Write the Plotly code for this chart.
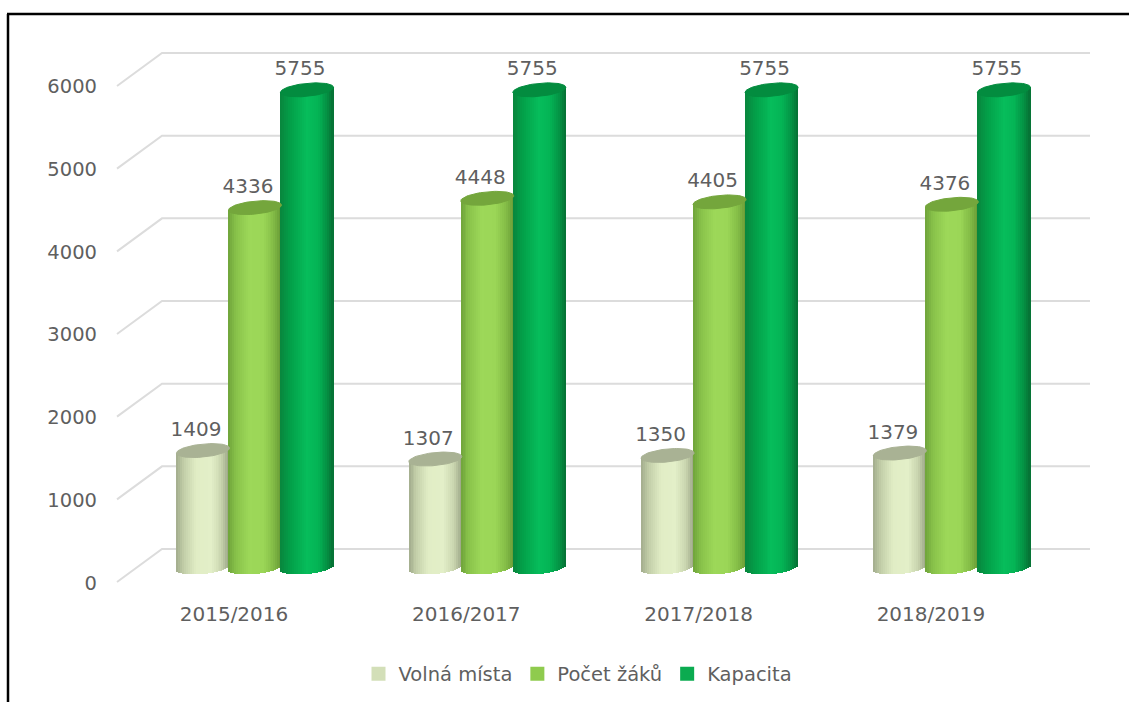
import numpy as np
import plotly.graph_objects as go

categories = ["2015/2016", "2016/2017", "2017/2018", "2018/2019"]
volna_mista = [1409, 1307, 1350, 1379]
pocet_zaku = [4336, 4448, 4405, 4376]
kapacita = [5755, 5755, 5755, 5755]
axis_ticks = [0, 1000, 2000, 3000, 4000, 5000, 6000]

# pixel geometry of the frame
W, H = 1129, 702
L, R, T, B = 100, 1100, 20, 700
X_AXIS_PX = 598
PX_PER_GROUP = 232.3
PX_PER_UNIT = 0.083
LABEL_PX_PER_UNIT = 0.0828
GRID_PX_PER_UNIT = 0.08267
TICK_X0_PX = 234
ZERO_LABEL_PX = 583
ZERO_BAR_PX = 567.5
ZERO_GRID_PX = 549
BAR_W_PX = 53
BAR_PITCH_PX = 52
GROUP_SHIFT_PX = 21
CAP_B_PX = 6.5
CAP_TILT_PX = 2.5
N_SLICES = 27
TXT = "#5f5f5f"
FONT = "DejaVu Sans"
GRID = "#dcdcdc"

x_of = lambda px: (px - TICK_X0_PX) / PX_PER_GROUP

series = [
    dict(name="Volná místa", values=volna_mista, legend="#d3dfb8", cap="#a9b294",
         stops=[(-1, "#a2ac8c"), (-0.7, "#c3cfa9"), (-0.25, "#e1edc5"), (0.3, "#e3efc8"), (0.7, "#c9d5af"), (1, "#9aa485")]),
    dict(name="Počet žáků", values=pocet_zaku, legend="#8fcb4e", cap="#74a63c",
         stops=[(-1, "#6fa33a"), (-0.7, "#88c24a"), (-0.2, "#9dd859"), (0.3, "#9bd657"), (0.7, "#84bd47"), (1, "#679a35")]),
    dict(name="Kapacita", values=kapacita, legend="#0bab50", cap="#038c3f",
         stops=[(-1, "#08853d"), (-0.6, "#03a049"), (0, "#06bd5b"), (0.4, "#04b455"), (0.75, "#049345"), (1, "#066f33")]),
]


def rgb(hexstr):
    return np.array([int(hexstr[i:i + 2], 16) for i in (1, 3, 5)], float)


def shade(stops, t):
    xs = [s[0] for s in stops]
    cols = np.array([rgb(s[1]) for s in stops])
    c = [np.interp(t, xs, cols[:, k]) for k in range(3)]
    return "rgb(%d,%d,%d)" % tuple(int(round(v)) for v in c)


fig = go.Figure()

# gridlines: front tick -> back wall -> right end (axis y2, drawn below the bars)
front_drop = 33 / GRID_PX_PER_UNIT
gx, gy = [], []
for v in axis_ticks:
    gx += [x_of(117), x_of(162), x_of(1090), None]
    gy += [v - front_drop, v, v, None]
fig.add_trace(go.Scatter(x=gx, y=gy, mode="lines", line=dict(color=GRID, width=2),
                         hoverinfo="skip", showlegend=False, yaxis="y2"))

half_w = BAR_W_PX / 2 / PX_PER_GROUP
dxs = (np.arange(N_SLICES) + 0.5) / N_SLICES * 2 - 1
slice_w = 2 * half_w / N_SLICES * 1.2
b_u = CAP_B_PX / PX_PER_UNIT
tilt_u = CAP_TILT_PX / PX_PER_UNIT

for s_i, s in enumerate(series):
    cx, base, height, color, width = [], [], [], [], []
    for g_i, val in enumerate(s["values"]):
        centre = g_i + (GROUP_SHIFT_PX + (s_i - 1) * BAR_PITCH_PX) / PX_PER_GROUP
        for d in dxs:
            low = -b_u * np.sqrt(1 - d * d) + tilt_u * d
            top = val + tilt_u * d
            cx.append(centre + d * half_w)
            base.append(low)
            height.append(top - low)
            color.append(shade(s["stops"], d))
            width.append(slice_w)
    fig.add_trace(go.Bar(x=cx, y=height, base=base, width=width, yaxis="y3",
                         marker=dict(color=color, line=dict(width=0)),
                         hoverinfo="skip", showlegend=False))
    # top caps
    th = np.linspace(0, 2 * np.pi, 73)
    ex, ey = [], []
    for g_i, val in enumerate(s["values"]):
        centre = g_i + (GROUP_SHIFT_PX + (s_i - 1) * BAR_PITCH_PX) / PX_PER_GROUP
        ex += list(centre + half_w * np.cos(th)) + [None]
        ey += list(val + b_u * np.sin(th) + tilt_u * np.cos(th)) + [None]
    fig.add_trace(go.Scatter(x=ex, y=ey, yaxis="y3", mode="lines", fill="toself",
                             fillcolor=s["cap"], line=dict(color=s["cap"], width=1),
                             hoverinfo="skip", showlegend=False))

# data labels
LABEL_DX_PX = -7
LABEL_LIFT = 9.5 / PX_PER_UNIT
for s_i, s in enumerate(series):
    lx = [g + (GROUP_SHIFT_PX + (s_i - 1) * BAR_PITCH_PX + LABEL_DX_PX) / PX_PER_GROUP
          for g in range(len(categories))]
    fig.add_trace(go.Scatter(x=lx, y=[v + LABEL_LIFT for v in s["values"]], yaxis="y3",
                             mode="text", text=[str(v) for v in s["values"]],
                             textposition="top center",
                             textfont=dict(family=FONT, size=20, color=TXT),
                             hoverinfo="skip", showlegend=False))

# legend entries
for s in series:
    fig.add_trace(go.Scatter(x=[None], y=[None], mode="markers", name=s["name"],
                             marker=dict(symbol="square", size=14, color=s["legend"])))

x_range = [x_of(L), x_of(R)]
y_range = [(ZERO_LABEL_PX - B) / LABEL_PX_PER_UNIT, (ZERO_LABEL_PX - T) / LABEL_PX_PER_UNIT]
y_grid_range = [(ZERO_GRID_PX - B) / GRID_PX_PER_UNIT, (ZERO_GRID_PX - T) / GRID_PX_PER_UNIT]
y_bar_range = [(ZERO_BAR_PX - B) / PX_PER_UNIT, (ZERO_BAR_PX - T) / PX_PER_UNIT]

fig.update_layout(
    width=W, height=H, autosize=False,
    paper_bgcolor="white", plot_bgcolor="white",
    margin=dict(l=L, r=W - R, t=T, b=H - B, pad=0),
    barmode="overlay", bargap=0,
    font=dict(family=FONT, size=20, color=TXT),
    xaxis=dict(range=x_range, tickmode="array", tickvals=list(range(len(categories))),
               ticktext=categories, showgrid=False, zeroline=False, showline=False,
               anchor="free", position=(B - X_AXIS_PX) / (B - T),
               ticks="", tickfont=dict(family=FONT, size=20, color=TXT), ticklabelstandoff=2),
    yaxis=dict(range=y_range, tickmode="array", tickvals=axis_ticks,
               ticktext=[str(v) for v in axis_ticks], showgrid=False, zeroline=False,
               showline=False, ticks="", ticklabelstandoff=2,
               tickfont=dict(family=FONT, size=19.5, color=TXT)),
    yaxis2=dict(range=y_grid_range, overlaying="y", side="left", visible=False),
    yaxis3=dict(range=y_bar_range, overlaying="y", side="left", visible=False),
    legend=dict(orientation="h", x=(578 - L) / (R - L), xanchor="center",
                y=(B - 674) / (B - T), yanchor="middle",
                font=dict(family=FONT, size=19.5, color=TXT), bgcolor="rgba(0,0,0,0)",
                itemclick=False, itemdoubleclick=False),
    shapes=[
        dict(type="line", xref="paper", yref="paper",
             x0=(8 - L) / (R - L), x1=(8 - L) / (R - L), y0=(B - H) / (B - T), y1=(B - 14) / (B - T),
             line=dict(color="black", width=2.5)),
        dict(type="line", xref="paper", yref="paper",
             x0=(7 - L) / (R - L), x1=(W - L) / (R - L), y0=(B - 14) / (B - T), y1=(B - 14) / (B - T),
             line=dict(color="black", width=2.5)),
    ],
)

fig.write_html("out.html", config=dict(displayModeBar=False),
               post_script="document.body.style.margin='0';document.body.style.overflow='hidden';")
